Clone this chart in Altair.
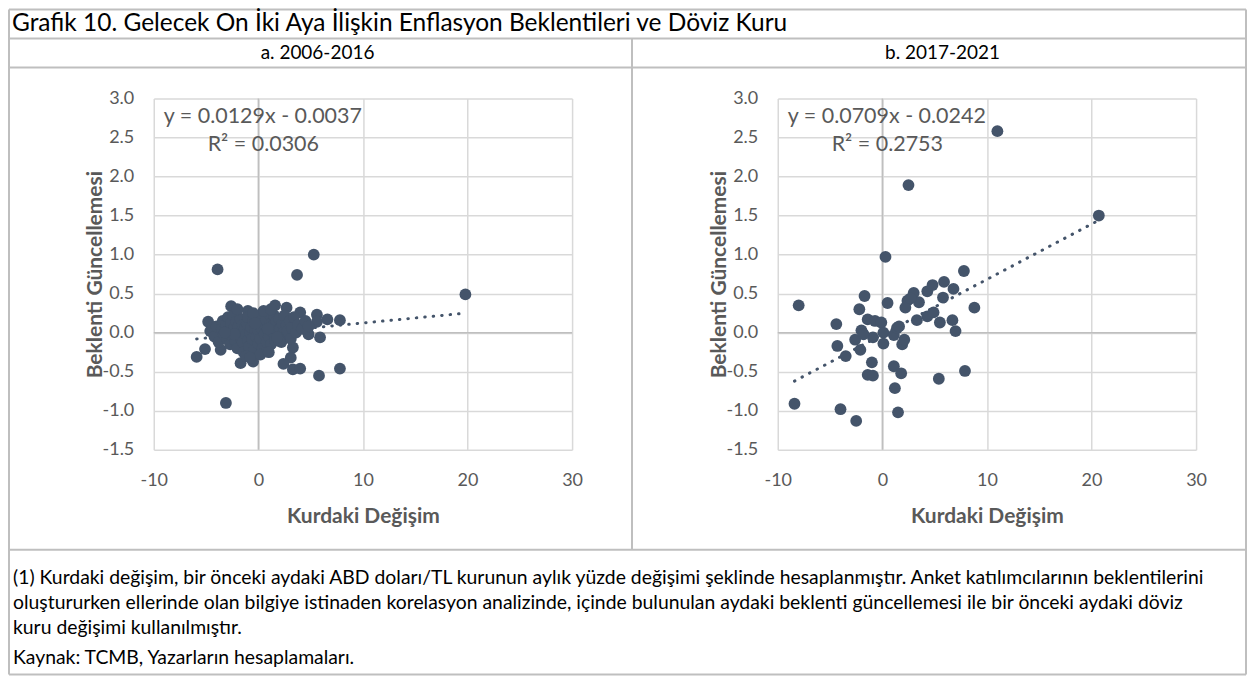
import altair as alt
import pandas as pd

# ---------------- data ----------------
# Panel a: 2006-2016
a_x = [-3.9, 5.3, 3.7, 19.8, -3.1, -5.9, -5.1, -4.8, -2.6, -1.0, -3.6, -1.7, -0.5,
       1.6, 2.7, 4.0, 5.6, 6.6, 7.8, 5.6, 4.8, 5.9, 3.3, 3.1, 2.4, 3.3, 4.0, 5.8, 7.8,
       -4.6, -4.2, -4.0, -3.8, -3.5, -3.4, -3.3, -3.1, -3.0, -2.9, -2.8, -2.7, -2.6,
       -2.5, -2.4, -2.3, -2.2, -2.1, -2.0, -2.0, -1.9, -1.8, -1.7, -1.6, -1.5, -1.5,
       -1.4, -1.3, -1.2, -1.1, -1.0, -1.0, -0.9, -0.8, -0.7, -0.6, -0.5, -0.4, -0.3,
       -0.2, -0.1, 0.0, 0.0, 0.1, 0.2, 0.3, 0.4, 0.5, 0.6, 0.7, 0.8, 0.9, 1.0, 1.0,
       1.1, 1.2, 1.3, 1.4, 1.5, 1.6, 1.7, 1.8, 1.9, 2.0, 2.1, 2.2, 2.3, 2.4, 2.5, 2.6,
       2.7, 2.8, 3.0, 3.1, 3.2, 3.4, 3.6, 3.8, 4.2, 4.5, 4.8, -2.0, 0.5, -0.5, 1.2,
       -1.2, 0.2, -0.8, 1.0, -2.3, 0.9, 2.0, -3.2, 1.8, -0.3]
a_y = [0.81, 1.00, 0.74, 0.49, -0.90, -0.31, -0.21, 0.14, 0.34, 0.28, -0.22, -0.39, -0.37,
       0.35, 0.32, 0.26, 0.23, 0.17, 0.16, 0.14, -0.02, -0.06, -0.19, -0.32, -0.40, -0.47,
       -0.46, -0.55, -0.46,
       0.02, -0.05, 0.08, -0.12, 0.05, 0.15, -0.02, 0.10, -0.08, 0.20, 0.03, -0.15, 0.12,
       -0.04, 0.22, 0.06, -0.10, 0.14, -0.20, 0.00, 0.08, -0.06, 0.18, 0.02, -0.12, 0.10,
       -0.25, 0.05, -0.03, 0.12, -0.10, 0.20, -0.18, 0.00, 0.07, -0.08, 0.15, -0.22, 0.04,
       -0.05, 0.10, -0.14, 0.02, 0.20, -0.08, 0.06, -0.20, 0.12, -0.02, 0.16, -0.12, 0.04,
       0.25, -0.05, 0.10, -0.15, 0.08, 0.00, 0.22, -0.10, 0.14, 0.03, -0.06, 0.18, 0.05,
       -0.12, 0.12, 0.00, 0.22, -0.04, 0.10, 0.02, 0.15, -0.08, 0.06, 0.20, 0.00, 0.10,
       0.05, 0.15, 0.08, 0.30, 0.28, 0.25, 0.30, -0.30, -0.28, -0.32, -0.25, -0.02,
       0.05, -0.10, 0.00, -0.06, 0.12]

# Panel b: 2017-2021
b_x = [11.0, 2.5, 20.7, 0.3, 7.8, -8.0, -1.7, -2.2, 0.5, -4.4, -4.3, -3.5, -2.1, -2.6,
       -2.0, -1.4, -0.7, -0.1, -0.9, 0.1, 0.1, 1.1, 1.4, 1.9, 2.1, -1.0, -1.4, -0.9,
       1.1, 1.8, 1.2, 5.4, 7.9, -8.4, -4.0, 1.5, -2.5, 3.0, 2.4, 3.5, 2.2, 4.3, 4.8,
       5.9, 6.8, 5.8, 8.8, 3.3, 4.3, 4.9, 5.5, 6.7, 7.0, 1.6, -1.8, 2.7]
b_y = [2.58, 1.89, 1.50, 0.97, 0.79, 0.35, 0.47, 0.30, 0.38, 0.11, -0.17, -0.30, -0.22,
       -0.09, 0.03, 0.17, 0.15, 0.13, -0.06, -0.14, 0.00, -0.03, 0.06, -0.15, -0.09,
       -0.38, -0.54, -0.55, -0.43, -0.52, -0.71, -0.59, -0.49, -0.91, -0.98, -1.02,
       -1.13, 0.51, 0.41, 0.39, 0.32, 0.53, 0.61, 0.65, 0.56, 0.45, 0.32, 0.16, 0.21,
       0.26, 0.13, 0.16, 0.02, 0.08, -0.02, 0.44]

# dotted linear trend lines (end points)
trend_a_x = [-5.9, 19.8]
trend_a_y = [-0.08, 0.25]
trend_b_x = [-8.4, 20.7]
trend_b_y = [-0.62, 1.44]

eq_a = ["y = 0.0129x - 0.0037", "R² = 0.0306"]
eq_b = ["y = 0.0709x - 0.0242", "R² = 0.2753"]

x_ticks = [-10, 0, 10, 20, 30]
y_ticks = [-1.5, -1.0, -0.5, 0.0, 0.5, 1.0, 1.5, 2.0, 2.5, 3.0]

title_text = "Grafik 10. Gelecek On İki Aya İlişkin Enflasyon Beklentileri ve Döviz Kuru"
panel_titles = ["a. 2006-2016", "b. 2017-2021"]
x_title = "Kurdaki Değişim"
y_title = "Beklenti Güncellemesi"
notes = [
    "(1) Kurdaki değişim, bir önceki aydaki ABD doları/TL kurunun aylık yüzde değişimi şeklinde hesaplanmıştır. Anket katılımcılarının beklentilerini",
    "oluştururken ellerinde olan bilgiye istinaden korelasyon analizinde, içinde bulunulan aydaki beklenti güncellemesi ile bir önceki aydaki döviz",
    "kuru değişimi kullanılmıştır.",
    "Kaynak: TCMB, Yazarların hesaplamaları.",
]

# ---------------- styling ----------------
W, H = 419, 352
DOT = "#44546A"
GRID = "#D9D9D9"
ZERO = "#BFBFBF"
FRAME = "#BFBFBF"
TXT = "#595959"
FONT = "Lato"

one = pd.DataFrame({"k": [0]})


def hline(y, x1, x2):
    return alt.Chart(one).mark_rule(color=FRAME, strokeWidth=2).encode(
        x=alt.value(x1), x2=alt.value(x2), y=alt.value(y))


def vline(x, y1, y2):
    return alt.Chart(one).mark_rule(color=FRAME, strokeWidth=2).encode(
        x=alt.value(x), y=alt.value(y1), y2=alt.value(y2))


def label(s, x, y, size, align="left", color="#000000", weight="normal"):
    return alt.Chart(one).mark_text(
        text=s, align=align, baseline="middle", fontSize=size, font=FONT,
        color=color, fontWeight=weight).encode(x=alt.value(x), y=alt.value(y))


neg_fmt_y = "datum.value < 0 ? '-' + format(-datum.value, '.1f') : format(datum.value, '.1f')"
neg_fmt_x = "datum.value < 0 ? '-' + format(-datum.value, 'd') : format(datum.value, 'd')"


def panel(xs, ys, tx, ty, eq, extra=()):
    xsc = alt.Scale(domain=[-10, 30], nice=False, zero=False)
    ysc = alt.Scale(domain=[-1.5, 3.0], nice=False, zero=False)
    xax = alt.Axis(values=x_ticks, title=x_title, labelExpr=neg_fmt_x)
    yax = alt.Axis(values=y_ticks, title=y_title, labelExpr=neg_fmt_y)

    pts = alt.Chart(pd.DataFrame({"x": xs, "y": ys})).mark_circle(
        size=140, color=DOT, opacity=1).encode(
        x=alt.X("x:Q", scale=xsc, axis=xax),
        y=alt.Y("y:Q", scale=ysc, axis=yax))
    zx = alt.Chart(pd.DataFrame({"x": [0]})).mark_rule(color=ZERO, strokeWidth=1.5).encode(
        x=alt.X("x:Q", scale=xsc, axis=xax))
    zy = alt.Chart(pd.DataFrame({"y": [0]})).mark_rule(color=ZERO, strokeWidth=1.5).encode(
        y=alt.Y("y:Q", scale=ysc, axis=yax))
    trend = alt.Chart(pd.DataFrame({"x": tx, "y": ty})).mark_line(
        color=DOT, strokeWidth=3, strokeDash=[0.5, 8], strokeCap="round").encode(
        x=alt.X("x:Q", scale=xsc, axis=xax),
        y=alt.Y("y:Q", scale=ysc, axis=yax))
    t1 = label(eq[0], 10, 19, 21.5, color=TXT)
    t2 = label(eq[1], 54, 47, 21.5, color=TXT)
    return alt.layer(zx, zy, trend, pts, t1, t2, *extra).properties(width=W, height=H)


# frame and texts, placed relative to the left panel's plot area
L, R, T, B = -145, 1094, -89, 577
deco = [
    hline(T, L, R), hline(B, L, R), vline(L, T, B), vline(R, T, B),
    hline(-60, L, R), hline(-31, L, R), hline(452, L, R), vline(479, -60, 452),
    label(title_text, -142, -74.5, 24.5),
    label(panel_titles[0], 164, -45.5, 19, align="center"),
    label(panel_titles[1], 790, -45.5, 19, align="center"),
    label(notes[0], -141, 480, 19.4),
    label(notes[1], -141, 505, 19.4),
    label(notes[2], -141, 530, 19.4),
    label(notes[3], -141, 561, 19.4),
]

left = panel(a_x, a_y, trend_a_x, trend_a_y, eq_a, deco)
right = panel(b_x, b_y, trend_b_x, trend_b_y, eq_b)

chart = alt.hconcat(left, right, spacing=206, bounds="flush").properties(
    padding=0, background="white"
).configure_view(stroke=None).configure_axis(
    grid=True, gridColor=GRID, gridWidth=1.5, domain=False, ticks=False, tickSize=0,
    labelFlush=False, labelOverlap=False,
    labelFont=FONT, labelFontSize=18, labelColor=TXT,
    titleFont=FONT, titleFontSize=21, titleFontWeight="bold", titleColor=TXT,
).configure_axisX(
    labelPadding=22, titleX=W / 2, titleY=67, titleAlign="center", titleBaseline="middle",
).configure_axisY(
    labelPadding=20, titleX=-58, titleY=H / 2, titleAlign="center", titleBaseline="middle",
    titleAngle=270,
)

chart.save("out.html", embed_options={"renderer": "svg", "actions": False})
